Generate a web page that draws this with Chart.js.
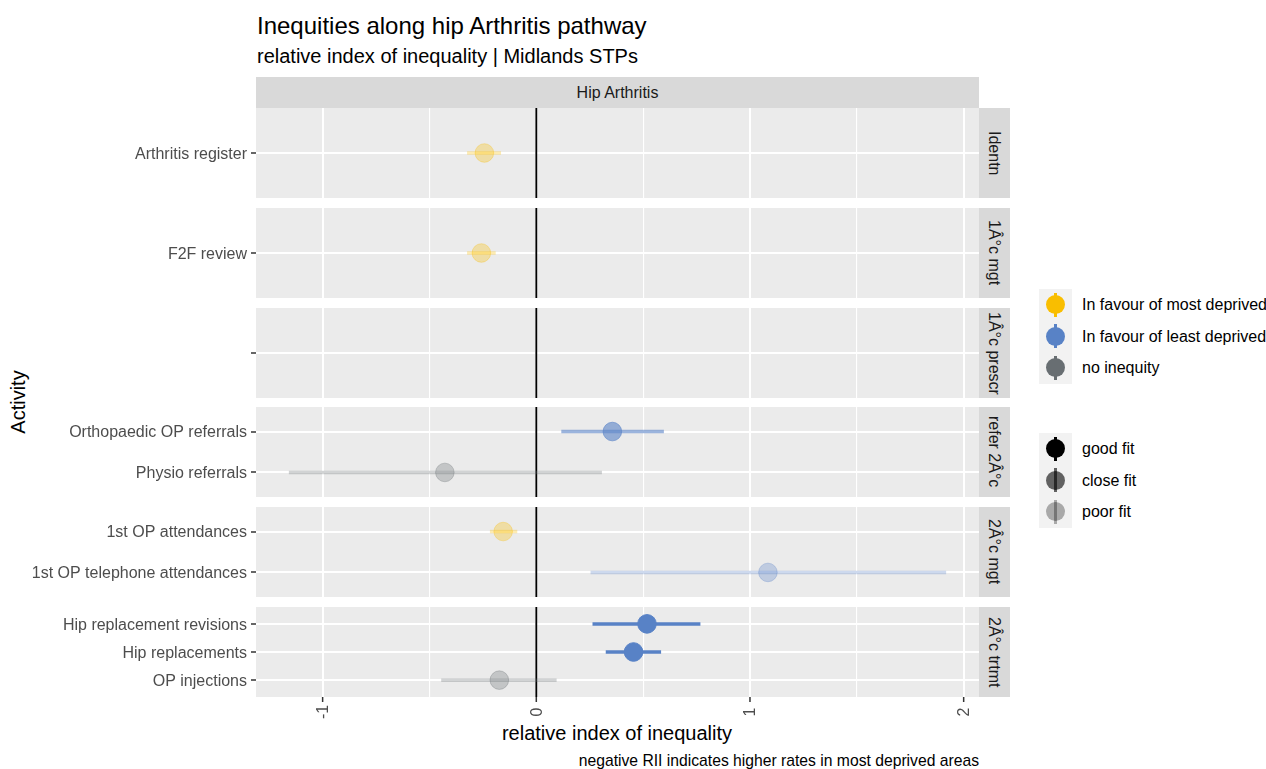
<!DOCTYPE html>
<html>
<head>
<meta charset="utf-8">
<script src="https://cdn.jsdelivr.net/npm/chart.js@4.4.0/dist/chart.umd.min.js"></script>
<style>
  body { margin: 0; width: 1266px; height: 769px; position: relative; background: #fff;
         font-family: 'Liberation Sans', Arial, sans-serif; overflow: hidden; }
  .abs { position: absolute; white-space: nowrap; }
  .stripR { position: absolute; left: 979px; width: 31px; height: 90px; background: #D9D9D9;
            color: #1A1A1A; font-size: 16px; writing-mode: vertical-rl; text-align: center; line-height: 31px; }
  .keybox { position: absolute; left: 1039px; width: 33px; background: #F2F2F2; }
  .key { position: absolute; left: 0; width: 33px; height: 31.5px; }
  .key .ln { position: absolute; left: 14.75px; top: 3.75px; width: 3.5px; height: 24px; }
  .key .dot { position: absolute; left: 7px; top: 6.25px; width: 19px; height: 19px; border-radius: 50%; }
  .legtxt { position: absolute; left: 1082px; font-size: 16px; color: #000; line-height: 20px; white-space: nowrap; }
</style>
</head>
<body>
<div class="abs" style="left:257px;top:13.5px;font-size:24px;line-height:24px;color:#000">Inequities along hip Arthritis pathway</div>
<div class="abs" style="left:257px;top:46px;font-size:20px;line-height:20px;color:#000">relative index of inequality | Midlands STPs</div>
<div class="abs" style="left:256px;top:77px;width:723px;height:31px;background:#D9D9D9;color:#1A1A1A;font-size:16px;line-height:31px;text-align:center">Hip Arthritis</div>
<div class="abs" style="left:-82px;top:390px;width:200px;height:24px;line-height:24px;font-size:20px;text-align:center;transform:rotate(-90deg);color:#000">Activity</div>
<div class="abs" style="left:417px;top:723px;width:400px;text-align:center;font-size:20px;line-height:20px;color:#000">relative index of inequality</div>
<div class="abs" style="right:287px;top:752.5px;font-size:15.7px;line-height:16px;color:#000">negative RII indicates higher rates in most deprived areas</div>
<div id="panels"></div>
<div id="legend"></div>

<script>
// ----------- DATA -----------
const stages = ['Identn', '1Â°c mgt', '1Â°c prescr', 'refer 2Â°c', '2Â°c mgt', '2Â°c trtmt'];
const activities = ['Arthritis register', 'F2F review', '', 'Orthopaedic OP referrals', 'Physio referrals',
  '1st OP attendances', '1st OP telephone attendances', 'Hip replacement revisions', 'Hip replacements', 'OP injections'];
const activityStage = [0, 1, 2, 3, 3, 4, 4, 5, 5, 5];
const rii     = [-0.243, -0.257, null, 0.356, -0.428, -0.155, 1.084, 0.518, 0.455, -0.173];
const lowerCI = [-0.324, -0.324, null, 0.117, -1.158, -0.217, 0.254, 0.263, 0.325, -0.445];
const upperCI = [-0.165, -0.190, null, 0.597,  0.307, -0.089, 1.918, 0.768, 0.584,  0.095];
const direction = ['most', 'most', null, 'least', 'none', 'most', 'least', 'least', 'least', 'none'];
const fitQuality = ['poor', 'poor', null, 'close', 'poor', 'poor', 'poor', 'good', 'good', 'poor'];
const xTicks = [-1, -0.5, 0, 0.5, 1, 1.5, 2];

const directionLabels = ['In favour of most deprived', 'In favour of least deprived', 'no inequity'];
const fitLabels = ['good fit', 'close fit', 'poor fit'];

// ----------- STYLE -----------
const dirColours = { most: [249, 190, 0], least: [88, 130, 198], none: [104, 110, 114] };
const fitAlpha = { good: 1, close: 0.6, poor: 0.3 };
const FONT = "'Liberation Sans', Arial, sans-serif";
Chart.defaults.font.family = FONT;

function rgba(c, a) { return `rgba(${c[0]},${c[1]},${c[2]},${a})`; }

// x range = data range + 5% each side (like ggplot)
const allLo = Math.min(...lowerCI.filter(v => v != null));
const allHi = Math.max(...upperCI.filter(v => v != null));
const span = allHi - allLo;
const xMin = allLo - 0.05 * span;
const xMax = allHi + 0.05 * span;

const PANEL_H = 90;
const panelTops = [108, 208, 308, 407, 507, 607];
const LEFT = 256, RIGHT = 979;

// ----------- PLUGINS -----------
const zeroLine = {
  id: 'zeroLine',
  beforeDatasetsDraw(chart) {
    const { ctx, chartArea, scales } = chart;
    const x = scales.x.getPixelForValue(0);
    ctx.save();
    ctx.strokeStyle = '#000';
    ctx.lineWidth = 1.8;
    ctx.beginPath();
    ctx.moveTo(x, chartArea.top);
    ctx.lineTo(x, chartArea.bottom);
    ctx.stroke();
    ctx.restore();
  }
};

// y labels drawn by hand so caps sit centred on the tick (like ggplot)
const yLabels = {
  id: 'yLabels',
  afterDraw(chart, args, opts) {
    const { ctx, chartArea, scales } = chart;
    ctx.save();
    ctx.fillStyle = '#4D4D4D';
    ctx.font = '16px ' + FONT;
    ctx.textAlign = 'right';
    ctx.textBaseline = 'alphabetic';
    scales.y.ticks.forEach(t => {
      const y = scales.y.getPixelForValue(t.value);
      ctx.fillText(opts.cats[t.value], chartArea.left - 9, y + 5.8);
    });
    ctx.restore();
  }
};

const xLabels = {
  id: 'xLabels',
  afterDraw(chart) {
    const { ctx, chartArea, scales } = chart;
    ctx.save();
    ctx.fillStyle = '#4D4D4D';
    ctx.strokeStyle = '#333333';
    ctx.lineWidth = 1.5;
    ctx.font = '16px ' + FONT;
    ctx.textAlign = 'center';
    ctx.textBaseline = 'middle';
    xTicks.filter(v => Number.isInteger(v)).forEach(v => {
      const x = scales.x.getPixelForValue(v);
      ctx.beginPath();
      ctx.moveTo(x, chartArea.bottom);
      ctx.lineTo(x, chartArea.bottom + 5);
      ctx.stroke();
      ctx.save();
      ctx.translate(x + 1, chartArea.bottom + 15);
      ctx.rotate(-Math.PI / 2);
      ctx.fillText(String(v), 0, 0);
      ctx.restore();
    });
    ctx.restore();
  }
};

// ----------- PANELS -----------
const holder = document.getElementById('panels');

stages.forEach((stage, s) => {
  const idx = activities.map((a, i) => i).filter(i => activityStage[i] === s);
  const cats = idx.map(i => activities[i]);
  const isLast = s === stages.length - 1;
  const extra = isLast ? 34 : 0;

  const wrap = document.createElement('div');
  wrap.style.cssText = `position:absolute;left:0;top:${panelTops[s]}px;width:${RIGHT}px;height:${PANEL_H + extra}px`;
  const canvas = document.createElement('canvas');
  canvas.width = RIGHT;
  canvas.height = PANEL_H + extra;
  wrap.appendChild(canvas);
  holder.appendChild(wrap);

  const strip = document.createElement('div');
  strip.className = 'stripR';
  strip.style.top = panelTops[s] + 'px';
  strip.textContent = stage;
  document.body.appendChild(strip);

  const datasets = [];
  idx.forEach((i, k) => {
    if (rii[i] == null) return;
    const col = rgba(dirColours[direction[i]], fitAlpha[fitQuality[i]]);
    datasets.push({
      data: [{ x: lowerCI[i], y: k }, { x: upperCI[i], y: k }],
      showLine: true, borderColor: col, borderWidth: 3.5, pointRadius: 0, order: 2
    });
    datasets.push({
      data: [{ x: rii[i], y: k }],
      backgroundColor: col, borderColor: col, borderWidth: 1, pointRadius: 9.3, order: 1
    });
  });

  new Chart(canvas, {
    type: 'scatter',
    data: { datasets },
    plugins: isLast ? [zeroLine, yLabels, xLabels] : [zeroLine, yLabels],
    options: {
      responsive: false,
      animation: false,
      layout: { padding: 0, autoPadding: false },
      plugins: { legend: { display: false }, tooltip: { enabled: false }, yLabels: { cats } },
      scales: {
        x: {
          type: 'linear', min: xMin, max: xMax,
          afterBuildTicks: sc => { sc.ticks = xTicks.map(v => ({ value: v })); },
          afterFit: sc => { sc.height = extra; },
          ticks: { display: false },
          border: { display: false },
          grid: {
            drawTicks: false,
            color: '#FFFFFF',
            lineWidth: c => (c.tick && Number.isInteger(c.tick.value)) ? 2 : 1.1
          }
        },
        y: {
          type: 'linear', min: -0.6, max: cats.length - 1 + 0.6, reverse: true,
          afterBuildTicks: sc => { sc.ticks = cats.map((c, k) => ({ value: k })); },
          afterFit: sc => { sc.width = LEFT; sc.paddingTop = 0; sc.paddingBottom = 0; },
          ticks: { display: false },
          border: { display: false },
          grid: { color: '#FFFFFF', lineWidth: 2, drawTicks: true, tickColor: '#333333', tickLength: 5, tickWidth: 1.5 }
        }
      }
    }
  });
});

// ----------- PANEL BACKGROUND -----------
panelTops.forEach(t => {
  const bg = document.createElement('div');
  bg.style.cssText = `position:absolute;left:${LEFT}px;top:${t}px;width:${RIGHT - LEFT}px;height:${PANEL_H}px;background:#EBEBEB;z-index:-1`;
  document.body.appendChild(bg);
});

// ----------- LEGEND -----------
const legend = document.getElementById('legend');
function legendGroup(top, labels, colourFor) {
  const box = document.createElement('div');
  box.className = 'keybox';
  box.style.top = top + 'px';
  box.style.height = (labels.length * 31.5) + 'px';
  labels.forEach((lab, j) => {
    const key = document.createElement('div');
    key.className = 'key';
    key.style.top = (j * 31.5) + 'px';
    const col = colourFor(j);
    key.innerHTML = `<div class="ln" style="background:${col}"></div><div class="dot" style="background:${col}"></div>`;
    box.appendChild(key);
    const txt = document.createElement('div');
    txt.className = 'legtxt';
    txt.style.top = (top + j * 31.5 + 15.75 - 9.5) + 'px';
    txt.textContent = lab;
    legend.appendChild(txt);
  });
  legend.appendChild(box);
}
const dirKeys = ['most', 'least', 'none'];
const fitKeys = ['good', 'close', 'poor'];
legendGroup(289, directionLabels, j => rgba(dirColours[dirKeys[j]], 1));
legendGroup(433, fitLabels, j => rgba([0, 0, 0], fitAlpha[fitKeys[j]]));
</script>
</body>
</html>
